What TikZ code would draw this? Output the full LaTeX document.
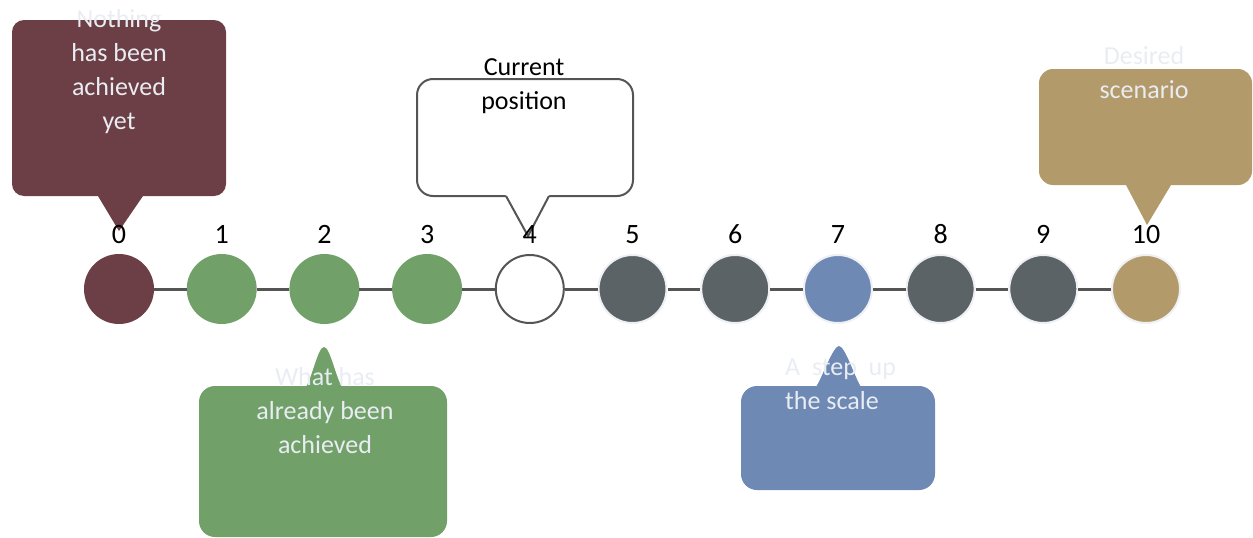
\documentclass[tikz,border=0pt]{standalone}
\usepackage{fontspec}
\setmainfont{Carlito}
\definecolor{wine}{HTML}{6B3F45}
\definecolor{leaf}{HTML}{71A169}
\definecolor{slate}{HTML}{5B6366}
\definecolor{dusk}{HTML}{6E89B4}
\definecolor{sand}{HTML}{B39A6A}
\definecolor{rim}{HTML}{555555}
\definecolor{halo}{HTML}{EEF0F4}
\definecolor{snow}{HTML}{E9EDF3}
\begin{document}
\begin{tikzpicture}[x=1pt,y=-1pt,
    dot/.style={circle, minimum size=68pt, inner sep=0pt, line width=2pt},
    num/.style={font=\fontsize{28}{32}\selectfont, inner sep=0pt, label distance=10pt},
    say/.style={font=\fontsize{26}{34}\selectfont, inner sep=0pt, align=center, anchor=north},
    link/.style={line width=3pt, draw=rim}]
\useasboundingbox (0,0) rectangle (1253,538);

% callouts
\fill[wine, rounded corners=12pt] (12,20) rectangle (226,196);
\fill[wine] (98,196) -- (119,231) -- (143,196) -- cycle;

\draw[rim, line width=2pt, fill=white, rounded corners=16pt] (417,79) rectangle (633,196);
\fill[white] (504.5,193) -- (528,236) -- (550.5,193) -- cycle;
\draw[rim, line width=2pt, line join=round] (506,196) -- (528,236) -- (549,196);

\fill[leaf, rounded corners=16pt] (199,386) rectangle (447,537);
\fill[leaf] (306,387) .. controls (312,378) and (318,347) .. (324,347)
    .. controls (330,347) and (336,378) .. (342,387) -- cycle;

\fill[dusk, rounded corners=16pt] (741,386) rectangle (935,490);
\fill[dusk] (816,387) .. controls (822,378) and (833,346) .. (839,346)
    .. controls (845,346) and (855,378) .. (861,387) -- cycle;

\fill[sand, rounded corners=14pt] (1039,69) rectangle (1252,185);
\fill[sand] (1126,185) -- (1147,225) -- (1171,185) -- cycle;

\node[say, text=snow] (t0) at (119,9) {Nothing\\has been\\achieved\\yet};
\node[say] (t4) at (524,58) {Current\\position};
\node[say, text=snow] (t2) at (325,367) {What has\\already been\\achieved};
\node[say, text=snow, align=left, anchor=north west] (t7) at (785,359) {A\ \ step\ \ up\\the scale};
\node[say, text=snow] (t10) at (1144,46) {Desired\\scenario};

% the scale
\foreach \i/\c/\r in {0/wine/wine, 1/leaf/leaf, 2/leaf/leaf, 3/leaf/leaf, 4/white/rim,
    5/slate/halo, 6/slate/halo, 7/dusk/halo, 8/slate/halo, 9/slate/halo, 10/sand/halo}
  \node[dot, fill=\c, draw=\r, label={[num]above:\i}] (n\i) at (119+\i*102.7,289) {};
\foreach \i [count=\j] in {0,...,9}
  \draw[link] (n\i) -- (n\j);
\end{tikzpicture}
\end{document}
